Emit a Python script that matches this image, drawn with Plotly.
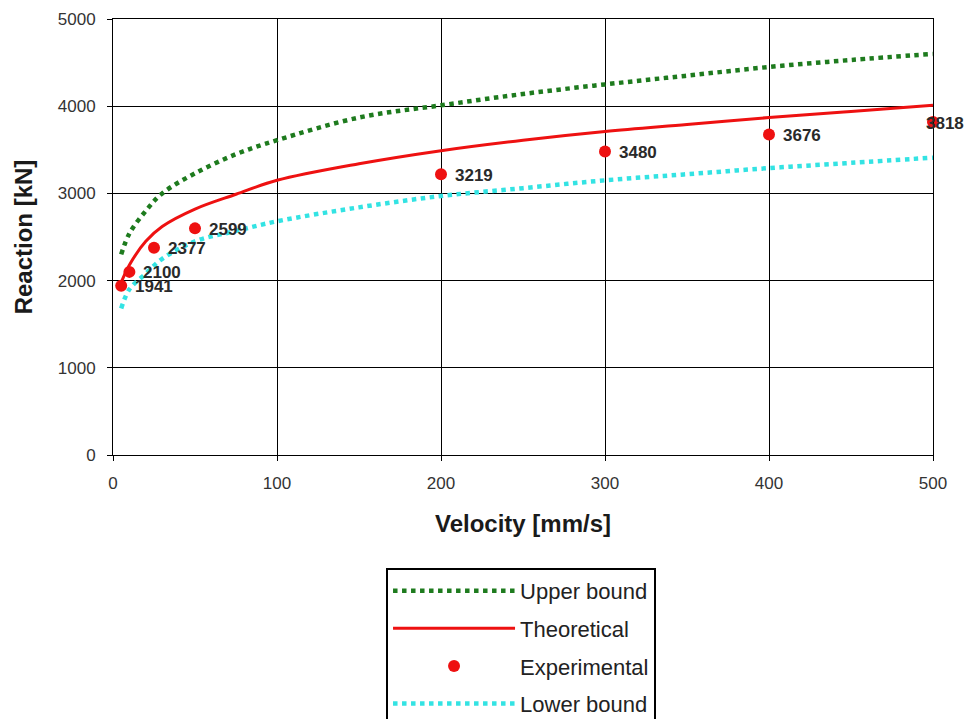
import plotly.graph_objects as go

# Data
vel_curve = [5, 10, 20, 30, 50, 75, 100, 150, 200, 250, 300, 350, 400, 450, 500]
upper_bound = [2300, 2540, 2800, 3000, 3230, 3450, 3610, 3870, 4010, 4140, 4250, 4350, 4450, 4530, 4600]
theoretical = [1980, 2180, 2450, 2620, 2820, 2990, 3150, 3340, 3490, 3610, 3710, 3790, 3870, 3940, 4010]
lower_bound = [1680, 1900, 2080, 2250, 2450, 2570, 2680, 2840, 2970, 3060, 3150, 3220, 3290, 3350, 3410]
vel_exp = [5, 10, 25, 50, 200, 300, 400, 500]
experimental = [1941, 2100, 2377, 2599, 3219, 3480, 3676, 3818]
label_shift = [12, 12, 12, 12, 12, 12, 12, -9]

fig = go.Figure()
fig.add_trace(go.Scatter(x=vel_curve, y=upper_bound, mode="lines", name="Upper bound",
                         legendgroup="a",
                         line=dict(color="#1e7b1e", width=4.5, dash="dot", shape="spline")))
fig.add_trace(go.Scatter(x=vel_curve, y=theoretical, mode="lines", name="Theoretical",
                         legendgroup="b",
                         line=dict(color="#ee1111", width=3, shape="spline")))
fig.add_trace(go.Scatter(x=vel_exp, y=experimental, mode="markers", name="Experimental",
                         legendgroup="c",
                         marker=dict(color="#ee1111", size=12), cliponaxis=False))
fig.add_trace(go.Scatter(x=vel_curve, y=lower_bound, mode="lines", name="Lower bound",
                         legendgroup="d",
                         line=dict(color="#33e3e3", width=4.5, dash="dot", shape="spline")))

for xv, yv, sh in zip(vel_exp, experimental, label_shift):
    fig.add_annotation(x=xv, y=yv, text="<b>%d</b>" % yv, showarrow=False,
                       xanchor="left", yanchor="middle", xshift=sh, yshift=-1,
                       font=dict(family="Arial, Liberation Sans", size=17, color="#2a2a2a"))

fig.update_layout(
    width=970, height=719,
    paper_bgcolor="white", plot_bgcolor="white",
    margin=dict(l=113, r=37, t=19, b=264, autoexpand=False),
    font=dict(family="Arial, Liberation Sans", color="#222222"),
    xaxis=dict(range=[0, 500], tickvals=[0, 100, 200, 300, 400, 500],
               showgrid=True, gridcolor="black", gridwidth=1,
               showline=True, linecolor="black", linewidth=1, mirror=True,
               ticks="outside", ticklen=5, tickcolor="black", ticklabelstandoff=8,
               tickfont=dict(size=17, color="#333333"), zeroline=False,
               title=dict(text="<b>Velocity [mm/s]</b>", font=dict(size=24, color="#1a1a1a"), standoff=22)),
    yaxis=dict(range=[0, 5000], tickvals=[0, 1000, 2000, 3000, 4000, 5000],
               showgrid=True, gridcolor="black", gridwidth=1,
               showline=True, linecolor="black", linewidth=1, mirror=True,
               ticks="outside", ticklen=5, tickcolor="black", ticklabelstandoff=8,
               tickfont=dict(size=17, color="#333333"), zeroline=False,
               title=dict(text="<b>Reaction [kN]</b>", font=dict(size=24, color="#1a1a1a"), standoff=18)),
    legend=dict(x=0.4976, xanchor="center", y=-0.259, yanchor="top",
                bordercolor="black", borderwidth=2, bgcolor="white",
                font=dict(size=22, color="#222222"), itemwidth=122,
                tracegroupgap=6),
    showlegend=True,
)

fig.write_html("out.html")
